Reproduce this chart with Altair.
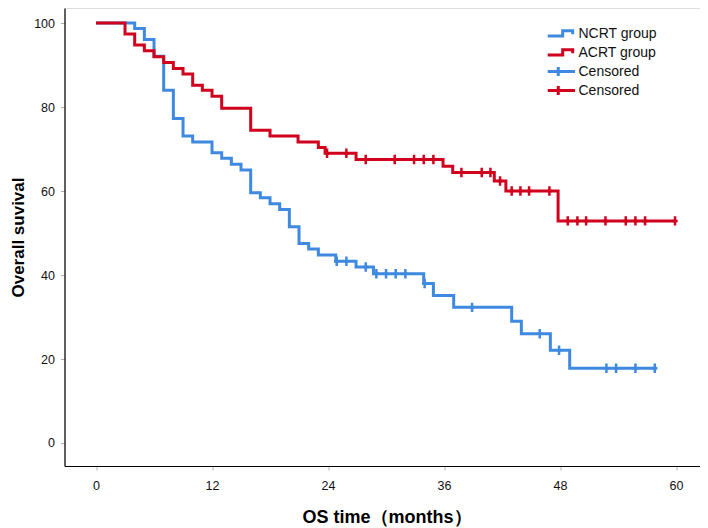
import altair as alt
import pandas as pd

# ---------------- data ----------------
# NCRT group: step times (months) and survival (%) after each step
ncrt_time = [0, 4.0, 5.0, 6.0, 7.0, 8.0, 9.0, 10.0, 12.0, 13.0, 14.0, 15.0, 16.0, 17.0, 18.0,
             19.0, 20.0, 21.0, 22.0, 23.0, 24.8, 26.9, 28.7, 33.9, 34.9, 37.0, 43.0, 44.0,
             47.0, 49.0, 58.0]
ncrt_surv = [100, 98.7, 96.1, 92.1, 84.0, 77.3, 73.1, 71.7, 69.1, 67.8, 66.4, 65.0, 59.6, 58.4,
             57.0, 55.6, 51.5, 47.5, 46.2, 44.8, 43.3, 41.9, 40.3, 38.0, 35.1, 32.3, 29.0, 26.0,
             22.1, 17.8, 17.8]
ncrt_cens_time = [24.9, 25.9, 27.9, 29.0, 30.0, 31.0, 32.0, 34.0, 38.9, 45.9, 47.9, 52.8, 53.8, 55.8, 57.8]
ncrt_cens_surv = [43.3, 43.3, 41.9, 40.3, 40.3, 40.3, 40.3, 38.0, 32.3, 26.0, 22.1, 17.8, 17.8, 17.8, 17.8]

# ACRT group
acrt_time = [0, 3.0, 4.0, 5.0, 6.0, 7.0, 8.0, 9.0, 10.0, 11.0, 12.0, 13.0, 16.0, 18.0, 20.9,
             23.0, 23.7, 26.9, 35.9, 36.9, 41.2, 42.4, 47.8, 60.0]
acrt_surv = [100, 97.4, 94.8, 93.4, 92.0, 90.6, 89.2, 87.9, 85.2, 84.0, 82.6, 79.7, 74.5, 73.1,
             71.7, 70.4, 69.0, 67.5, 65.9, 64.4, 62.4, 60.0, 52.9, 52.9]
acrt_cens_time = [23.9, 25.9, 27.9, 30.9, 32.9, 33.9, 34.9, 37.8, 39.9, 40.8, 41.8, 43.0, 43.9,
                  44.8, 46.9, 48.8, 49.8, 50.7, 52.7, 54.8, 55.8, 56.8, 59.9]
acrt_cens_surv = [69.0, 69.0, 67.5, 67.5, 67.5, 67.5, 67.5, 64.4, 64.4, 64.4, 62.4, 60.0, 60.0,
                  60.0, 60.0, 52.9, 52.9, 52.9, 52.9, 52.9, 52.9, 52.9, 52.9]

legend_keys = ["NCRT group", "ACRT group", "Censored (NCRT)", "Censored (ACRT)"]
x_ticks = [0, 12, 24, 36, 48, 60]
y_ticks = [0, 20, 40, 60, 80, 100]

BLUE = "#3f8ae0"
RED = "#d0021e"
color_range = [BLUE, RED, BLUE, RED]

STEP_GLYPH = "M-2.9,0.35H-0.76V-0.4H0.67V0.1"
CENS_GLYPH = "M-2.9,0H1M-1.39,-0.65V0.65"
CROSS = "M0,-1V1M-0.55,0H0.55"

lines_df = pd.concat([
    pd.DataFrame({"t": ncrt_time, "s": ncrt_surv, "key": "NCRT group"}),
    pd.DataFrame({"t": acrt_time, "s": acrt_surv, "key": "ACRT group"}),
])
cens_df = pd.concat([
    pd.DataFrame({"t": ncrt_cens_time, "s": ncrt_cens_surv, "key": "Censored (NCRT)"}),
    pd.DataFrame({"t": acrt_cens_time, "s": acrt_cens_surv, "key": "Censored (ACRT)"}),
])
legend_df = pd.DataFrame({"key": legend_keys})

x_scale = alt.Scale(domain=[-3.26, 62.48], nice=False, zero=False)
y_scale = alt.Scale(domain=[-5.48, 103.6], nice=False, zero=False)
color_scale = alt.Scale(domain=legend_keys, range=color_range)

x_enc = alt.X("t:Q", scale=x_scale,
              axis=alt.Axis(values=x_ticks, title="OS time（months）", grid=False,
                            domainColor="#000", domainWidth=1.2, tickColor="#b0b0b0",
                            tickSize=4, labelPadding=9, labelFontSize=12.5,
                            labelFont="Arial", labelColor="#111",
                            titleFont="Arial", titleFontSize=18, titleFontWeight="bold",
                            titleColor="#000", titlePadding=17, titleX=322))
y_enc = alt.Y("s:Q", scale=y_scale,
              axis=alt.Axis(values=y_ticks, title="Overall suvival", grid=False,
                            domainColor="#000", domainWidth=1.2, tickColor="#b0b0b0",
                            tickSize=4, labelPadding=6, labelFontSize=12.5,
                            labelFont="Arial", labelColor="#111",
                            titleFont="Arial", titleFontSize=17, titleFontWeight="bold",
                            titleColor="#000", titlePadding=6))

leg = alt.Legend(title=None, orient="none", legendX=474, legendY=16,
                 symbolSize=196, symbolStrokeWidth=3, clipHeight=19, gridAlign="all",
                 symbolOffset=21,
                 labelFont="Arial", labelFontSize=14,
                 labelColor="#111", labelOffset=2, rowPadding=0,
                 padding=0, labelExpr="split(datum.label, ' (')[0]")

legend_layer = alt.Chart(legend_df).mark_point(filled=False, strokeWidth=3, opacity=1).encode(
    x=alt.value(-2000), y=alt.value(-2000),
    color=alt.Color("key:N", scale=color_scale, legend=leg),
    shape=alt.Shape("key:N", scale=alt.Scale(domain=legend_keys,
                                             range=[STEP_GLYPH, STEP_GLYPH, CENS_GLYPH, CENS_GLYPH]),
                    legend=leg),
)

lines = alt.Chart(lines_df).mark_line(interpolate="step-after", strokeWidth=3,
                                      strokeCap="butt", clip=True).encode(
    x=x_enc, y=y_enc,
    color=alt.Color("key:N", scale=color_scale),
    detail="key:N",
)

cens = alt.Chart(cens_df).mark_point(shape=CROSS, filled=False, size=90, strokeWidth=2.5,
                                     opacity=1).encode(
    x=alt.X("t:Q", scale=x_scale),
    y=alt.Y("s:Q", scale=y_scale),
    color=alt.Color("key:N", scale=color_scale),
)

chart = alt.layer(legend_layer, lines, cens).properties(
    width=635.5, height=458,
    padding={"left": 56.5, "top": 0, "right": 0, "bottom": 62},
    autosize=alt.AutoSizeParams(type="none"),
).configure_view(stroke=None).configure(background="white")

chart.save("out.html", embed_options={"renderer": "svg", "actions": False})
